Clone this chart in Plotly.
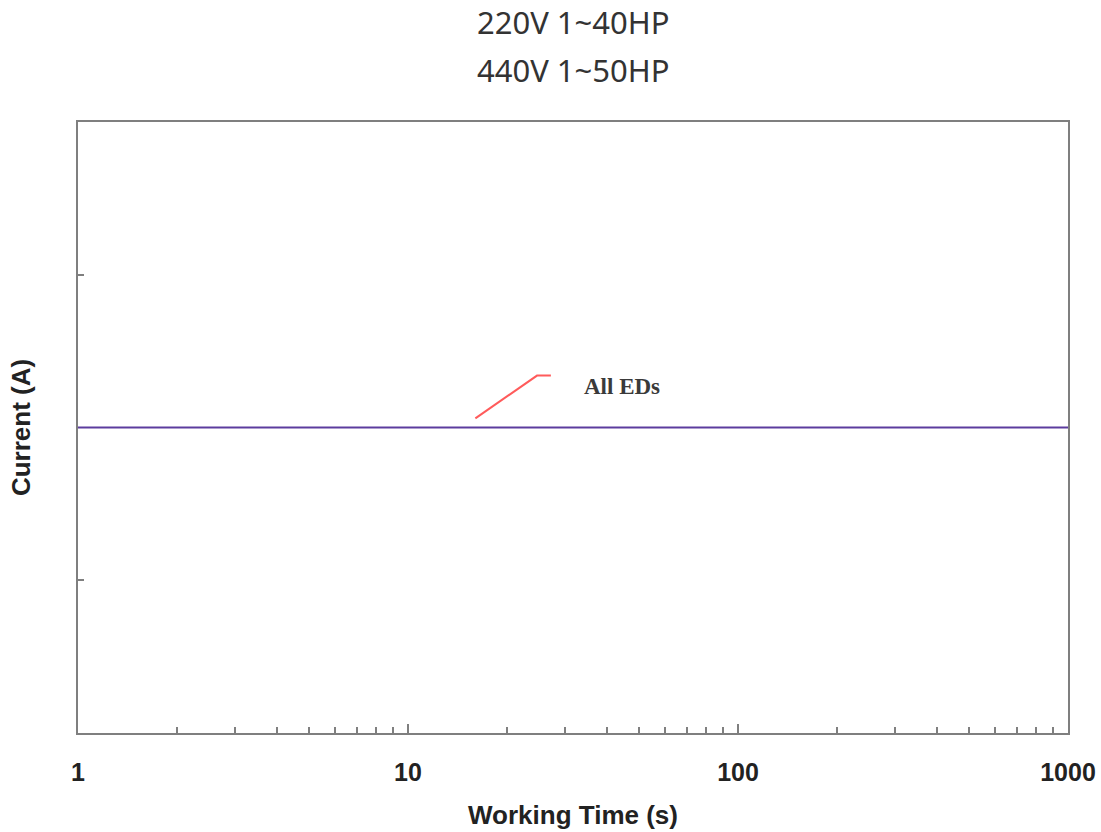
import math
import plotly.graph_objects as go

# Data
time_s = [1, 1000]
current_all_eds = [2, 2]
series_name = "All EDs"
leader_x = [16, 24.6, 27.1]
leader_y = [2.06, 2.34, 2.34]
label_x = 44.5
label_y = 2.27
x_tickvals = [1, 10, 100, 1000]
x_ticktext = ["1", "10", "100", "1000"]
y_tickvals = [1, 3]
title_lines = ["220V 1~40HP", "440V 1~50HP"]

fig = go.Figure()
fig.add_trace(go.Scatter(x=time_s, y=current_all_eds, mode="lines",
                         line=dict(color="#5c3c9e", width=2.2), name=series_name,
                         showlegend=False, hoverinfo="skip"))
fig.add_trace(go.Scatter(x=leader_x, y=leader_y, mode="lines",
                         line=dict(color="#ff5b5b", width=2), showlegend=False,
                         hoverinfo="skip"))
fig.add_annotation(x=math.log10(label_x), y=label_y, xref="x", yref="y",
                   text="<b>" + series_name + "</b>", showarrow=False,
                   font=dict(family="Liberation Serif", size=23, color="#3a3a3a"))

# Title lines
for line_text, ypos in zip(title_lines, [1.1637, 1.0851]):
    fig.add_annotation(x=0.5, y=ypos, xref="paper", yref="paper", text=line_text,
                       showarrow=False, xanchor="center", yanchor="middle",
                       font=dict(family="Noto Sans", size=31, color="#333"))

axis_color = "#7f7f7f"
fig.update_layout(
    width=1101, height=832,
    margin=dict(l=78, r=33, t=122, b=99),
    plot_bgcolor="white", paper_bgcolor="white",
    xaxis=dict(type="log", range=[0, 3], tickvals=x_tickvals, ticktext=x_ticktext,
               ticks="inside", ticklen=9, tickwidth=1.5, tickcolor=axis_color,
               minor=dict(ticks="inside", ticklen=6, tickwidth=1.5, tickcolor=axis_color,
                          dtick="D1", showgrid=False),
               showline=True, linecolor=axis_color, linewidth=2, mirror=True,
               showgrid=False, zeroline=False, ticklabelstandoff=16, automargin=False,
               tickfont=dict(family="Liberation Sans", size=25, color="#222", weight="bold"),
               title=dict(text="<b>Working Time (s)</b>", standoff=21,
                          font=dict(family="Liberation Sans", size=26, color="#222"))),
    yaxis=dict(range=[0, 4], tickvals=y_tickvals, showticklabels=False,
               ticks="inside", ticklen=6, tickwidth=1.5, tickcolor=axis_color,
               showline=True, linecolor=axis_color, linewidth=2, mirror=True,
               showgrid=False, zeroline=False, automargin=False,
               title=dict(text="<b>Current (A)</b>", standoff=38,
                          font=dict(family="Liberation Sans", size=26, color="#222"))),
)

fig.write_html(
    "out.html",
    config={"displayModeBar": False},
    post_script="document.documentElement.style.overflow='hidden';"
                "document.body.style.overflow='hidden';"
                "document.body.style.margin='0';",
)
